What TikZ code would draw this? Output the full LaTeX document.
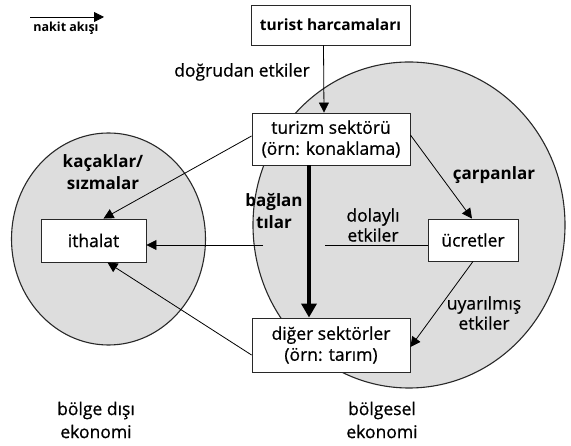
\documentclass[tikz,border=0pt]{standalone}
\usepackage{fontspec}
\setmainfont{Open Sans}
\newfontfamily\medfont[FakeBold=0.7]{Open Sans}
\usetikzlibrary{arrows.meta}
\definecolor{regfill}{RGB}{221,221,221}
\definecolor{edgecol}{RGB}{40,40,40}
\tikzset{
  box/.style={draw=edgecol, line width=0.9pt, fill=white, inner sep=0pt, align=center, font=\medfont\fontsize{17.5}{21}\selectfont},
  lbl/.style={inner sep=0pt, align=center, font=\medfont\fontsize{17.5}{20}\selectfont},
  blbl/.style={inner sep=0pt, align=center, font=\fontsize{17}{22}\selectfont\bfseries},
  region/.style={draw=edgecol, line width=1.1pt, fill=regfill},
  flow/.style={draw=black, line width=0.8pt, -{Triangle[length=10pt,width=10pt]}},
  thick flow/.style={draw=black, line width=4.5pt, -{Triangle[length=14pt,width=15pt]}},
  plain/.style={draw=black, line width=0.8pt}
}
\begin{document}
\begin{tikzpicture}[x=1pt,y=-1pt]
\useasboundingbox (0,0) rectangle (571,446);
% regions
\path[region] (409,225) ellipse [x radius=156, y radius=163];
\path[region] (108.5,239) ellipse [x radius=97, y radius=106];
% boxes
\node[box, minimum width=159pt, minimum height=40pt, font=\fontsize{15.5}{18}\selectfont\bfseries] (tourist) at (330.5,25) {turist harcamaları};
\node[box, minimum width=158pt, minimum height=52pt] (turizm) at (331,139) {turizm sektörü\\(örn: konaklama)};
\node[box, minimum width=158pt, minimum height=54pt] (diger) at (331,345) {diğer sektörler\\(örn: tarım)};
\node[box, minimum width=105pt, minimum height=43pt] (ithalat) at (93.5,240.5) {ithalat};
\node[box, minimum width=90pt, minimum height=42pt] (ucretler) at (473,240) {ücretler};
% legend
\coordinate (legA) at (30,17);
\coordinate (legB) at (104,17);
\draw[flow] (legA) -- (legB);
\node[inner sep=0pt, font=\fontsize{12.5}{14}\selectfont\bfseries] (legtext) at (66,28) {nakit akışı};
% connectors
\draw[flow] ([xshift=-7pt]tourist.south) -- ([xshift=-7pt]turizm.north);
\draw[thick flow] ([xshift=-22pt]turizm.south) -- ([xshift=-22pt]diger.north);
\draw[flow] ([yshift=3pt]turizm.west) -- ([xshift=10pt]ithalat.north);
\draw[flow] ([yshift=4pt]turizm.east) -- ([xshift=-1pt]ucretler.north);
\draw[flow] ([xshift=0pt]ucretler.south) -- ([yshift=-2pt]diger.east);
\draw[flow] ([yshift=-10pt]diger.west) -- ([xshift=14pt]ithalat.south);
\coordinate (gapL) at (263,245);
\coordinate (gapR) at (325,245);
\draw[plain] (ucretler.west |- gapR) -- (gapR);
\draw[flow] (gapL) -- (ithalat.east |- gapL);
% labels
\node[lbl] (dogrudan) at (242,72) {doğrudan etkiler};
\node[blbl] (kacak) at (103,172) {kaçaklar/\\sızmalar};
\node[blbl] (baglan) at (274,211) {bağlan\\tılar};
\node[blbl] (carpan) at (494,175) {çarpanlar};
\node[lbl] (dolayli) at (373,225) {dolaylı\\etkiler};
\node[lbl] (uyari) at (484,313) {uyarılmış\\etkiler};
\node[lbl, font=\medfont\fontsize{17.5}{23}\selectfont] (disi) at (96,420) {bölge dışı\\ekonomi};
\node[lbl, font=\medfont\fontsize{17.5}{23}\selectfont] (bolgesel) at (382,420) {bölgesel\\ekonomi};
\end{tikzpicture}
\end{document}
